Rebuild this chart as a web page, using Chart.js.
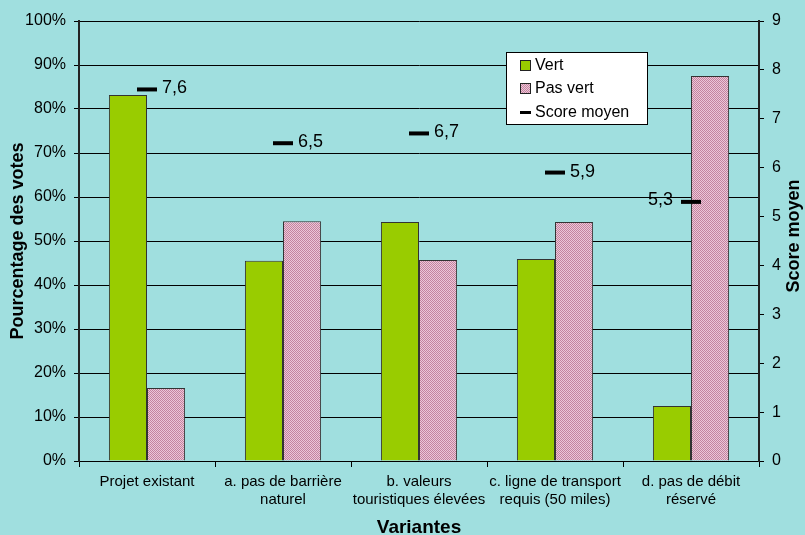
<!DOCTYPE html>
<html lang="fr">
<head>
  <meta charset="UTF-8">
  <title>Variantes - votes</title>
  <script src="https://cdn.jsdelivr.net/npm/chart.js"></script>
  <style>
    * { margin: 0; padding: 0; box-sizing: border-box; }
    body { background: #a0dfdf; width: 805px; height: 535px; overflow: hidden; }
    canvas { display: block; }
  </style>
</head>
<body>
  <canvas id="chart" width="805" height="535"></canvas>

  <script>
    // Data
    const categories = [
      'Projet existant',
      ['a. pas de barrière', 'naturel'],
      ['b. valeurs', 'touristiques élevées'],
      ['c. ligne de transport', 'requis (50 miles)'],
      ['d. pas de débit', 'réservé']
    ];
    const vert = [83.2, 45.5, 54.3, 45.9, 12.5];
    const pasVert = [16.6, 54.5, 45.7, 54.3, 87.5];
    const scoreMoyen = [7.6, 6.5, 6.7, 5.9, 5.3];
    const scoreLabels = ['7,6', '6,5', '6,7', '5,9', '5,3'];

    const ctx = document.getElementById('chart').getContext('2d');
    const font = 'Arial, "Liberation Sans", sans-serif';

    // pink dotted fill used for "Pas vert"
    function pinkPattern() {
      const c = document.createElement('canvas');
      c.width = 2; c.height = 2;
      const p = c.getContext('2d');
      p.fillStyle = '#ecc6d8';
      p.fillRect(0, 0, 2, 2);
      p.fillStyle = '#c4849f';
      p.fillRect(0, 0, 1, 1);
      p.fillRect(1, 1, 1, 1);
      return ctx.createPattern(c, 'repeat');
    }
    const pink = pinkPattern();

    // value labels next to the score markers, right title and legend
    const extras = {
      id: 'extras',
      afterDatasetsDraw(chart) {
        const c = chart.ctx;
        const meta = chart.getDatasetMeta(2);
        c.save();
        c.fillStyle = '#000';
        c.font = '18px ' + font;
        c.textBaseline = 'middle';
        meta.data.forEach((pt, i) => {
          if (i === meta.data.length - 1) {
            c.textAlign = 'right';
            c.fillText(scoreLabels[i], pt.x - 18, pt.y - 2);
          } else {
            c.textAlign = 'left';
            c.fillText(scoreLabels[i], pt.x + 15, pt.y - 1);
          }
        });
        c.restore();
      },
      afterDraw(chart) {
        const c = chart.ctx;
        const area = chart.chartArea;
        c.save();
        // right axis title, reading bottom to top
        c.font = 'bold 18px ' + font;
        c.fillStyle = '#000';
        c.textAlign = 'center';
        c.textBaseline = 'middle';
        c.translate(794, (area.top + area.bottom) / 2 - 5);
        c.rotate(-Math.PI / 2);
        c.fillText('Score moyen', 0, 0);
        c.restore();

        // legend box
        c.save();
        const lx = 506, ly = 52, lw = 141, lh = 72;
        c.fillStyle = '#fff';
        c.fillRect(lx, ly, lw, lh);
        c.strokeStyle = '#000';
        c.lineWidth = 1;
        c.strokeRect(lx + 0.5, ly + 0.5, lw, lh);
        c.font = '16px ' + font;
        c.textAlign = 'left';
        c.textBaseline = 'middle';
        c.fillStyle = '#99cc00';
        c.fillRect(521, 61, 9, 9);
        c.strokeStyle = '#222';
        c.strokeRect(520.5, 60.5, 10, 10);
        c.fillStyle = pink;
        c.fillRect(521, 84, 9, 9);
        c.strokeRect(520.5, 83.5, 10, 10);
        c.fillStyle = '#000';
        c.fillRect(520, 111, 11, 3);
        c.fillText('Vert', 535, 66);
        c.fillText('Pas vert', 535, 89);
        c.fillText('Score moyen', 535, 113);
        c.restore();
      }
    };

    new Chart(ctx, {
      type: 'bar',
      data: {
        labels: categories,
        datasets: [
          {
            label: 'Vert',
            data: vert,
            backgroundColor: '#99cc00',
            borderColor: '#333',
            borderWidth: 1,
            yAxisID: 'y',
            order: 2
          },
          {
            label: 'Pas vert',
            data: pasVert,
            backgroundColor: pink,
            borderColor: '#333',
            borderWidth: 1,
            yAxisID: 'y',
            order: 2
          },
          {
            type: 'line',
            label: 'Score moyen',
            data: scoreMoyen,
            showLine: false,
            pointStyle: 'line',
            pointRadius: 10,
            pointBorderWidth: 4,
            borderColor: '#000',
            backgroundColor: '#000',
            yAxisID: 'y1',
            order: 1
          }
        ]
      },
      options: {
        responsive: false,
        animation: false,
        layout: { padding: { top: 21, left: 0, right: 0, bottom: 0 } },
        datasets: {
          bar: { categoryPercentage: 0.56, barPercentage: 1 }
        },
        plugins: {
          legend: { display: false },
          tooltip: { enabled: false }
        },
        scales: {
          x: {
            grid: { offset: true, drawOnChartArea: false, color: '#000', tickLength: 6 },
            border: { color: '#000', width: 1 },
            ticks: {
              color: '#000',
              font: { family: font, size: 15, lineHeight: 1.25 },
              padding: 5,
              maxRotation: 0,
              autoSkip: false
            },
            title: {
              display: true,
              text: 'Variantes',
              color: '#000',
              font: { family: font, size: 19, weight: 'bold', lineHeight: 1 },
              padding: { top: 0, bottom: -2 }
            },
            afterFit(scale) { scale.height = 74; }
          },
          y: {
            position: 'left',
            min: 0,
            max: 100,
            ticks: {
              stepSize: 10,
              color: '#000',
              font: { family: font, size: 16 },
              padding: 8,
              callback: v => v + '%'
            },
            grid: { color: '#000', lineWidth: 1, tickLength: 5 },
            border: { color: '#222', width: 2 },
            title: {
              display: true,
              text: 'Pourcentage des votes',
              color: '#000',
              font: { family: font, size: 18, weight: 'bold' },
              padding: { top: 7, bottom: 0 }
            },
            afterFit(scale) { scale.width = 79; }
          },
          y1: {
            position: 'right',
            min: 0,
            max: 9,
            ticks: {
              stepSize: 1,
              color: '#000',
              font: { family: font, size: 16 },
              padding: 8
            },
            grid: { drawOnChartArea: false, color: '#000', tickLength: 5 },
            border: { color: '#222', width: 2 },
            afterFit(scale) { scale.width = 46; }
          }
        }
      },
      plugins: [extras]
    });
  </script>
</body>
</html>
